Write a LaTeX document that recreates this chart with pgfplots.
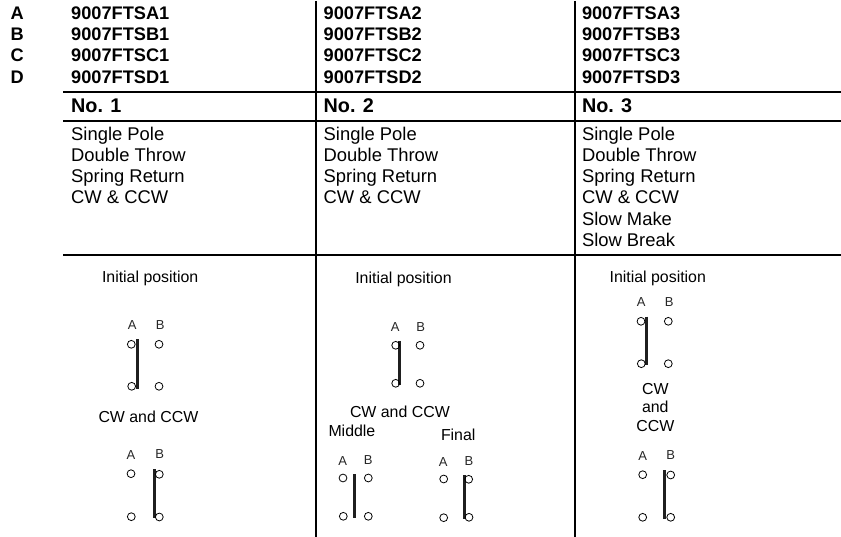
\documentclass[border=0pt]{standalone}
\usepackage{pgfplots}
\pgfplotsset{compat=1.18}
\usepackage{fontspec}
\setmainfont{Liberation Sans}
\newcommand{\bh}{\fontsize{18.2}{20}\selectfont\bfseries}
\newcommand{\nh}{\fontsize{19.8}{24}\selectfont\bfseries}
\newcommand{\tb}{\fontsize{18.4}{20}\selectfont}
\newcommand{\tl}{\fontsize{15.9}{18}\selectfont}
\newcommand{\ab}{\fontsize{13}{14}\selectfont}
\begin{document}
\begin{tikzpicture}[x=1pt,y=1pt,every node/.style={inner sep=0pt,outer sep=0pt,text=black}]
\path[use as bounding box] (0,0) rectangle (841,537);
\begin{axis}[at={(0,0)},anchor=south west,scale only axis,width=841pt,height=537pt,
 xmin=0,xmax=841,ymin=0,ymax=537,y dir=reverse,hide axis,clip=false]
% rules
\addplot[black,line width=1.9pt] coordinates {(63,91.7)(841,91.7)};
\addplot[black,line width=1.9pt] coordinates {(63,120.7)(841,120.7)};
\addplot[black,line width=1.9pt] coordinates {(63,255)(841,255)};
\addplot[black,line width=1.9pt] coordinates {(316,1)(316,537)};
\addplot[black,line width=1.9pt] coordinates {(574.7,1)(574.7,537)};
% contact bars
\foreach \x/\a/\b in {137.3/339.3/388.7,154.3/469.3/518.3,399.3/341/385,354.7/474/517.7,464/475.3/519,646.3/316.7/365.3,664.3/470.3/519.3}{
 \edef\tmp{\noexpand\addplot[color=black!88,line width=3pt] coordinates {(\x,\a)(\x,\b)};}\tmp
}
% terminals
\addplot[only marks,mark=o,mark size=3.9pt,mark options={draw=black,line width=0.8pt,fill=none}] coordinates {
(131.3,344.3)(159,344.3)(131.7,386.3)(159,386.3)
(131,473.7)(159.3,474.3)(131.3,516.7)(159.3,517)
(395.7,345.3)(420,345.3)(395.7,383.3)(420,383.3)
(343,478)(368.3,478)(343.3,516.3)(368.3,516.3)
(443.7,479)(468.7,479.3)(443.7,517.7)(469,517.3)
(641,321.3)(668.3,321.3)(641.3,363.7)(668.3,363.7)
(642.7,474.7)(670.7,475)(642.7,517.3)(670.7,517.3)};
% header
\node[anchor=base west,font=\bh] at (axis cs:10.5,20) {A};
\node[anchor=base west,font=\bh] at (axis cs:10.5,41) {B};
\node[anchor=base west,font=\bh] at (axis cs:10.5,62) {C};
\node[anchor=base west,font=\bh] at (axis cs:10.5,83.5) {D};
\foreach \x/\n in {71.2/1,323.7/2,582/3}{
 \edef\tmp{\noexpand\node[anchor=base west,font=\noexpand\bh] at (axis cs:\x,20) {9007FTSA\n};
 \noexpand\node[anchor=base west,font=\noexpand\bh] at (axis cs:\x,41) {9007FTSB\n};
 \noexpand\node[anchor=base west,font=\noexpand\bh] at (axis cs:\x,62) {9007FTSC\n};
 \noexpand\node[anchor=base west,font=\noexpand\bh] at (axis cs:\x,83.5) {9007FTSD\n};
 \noexpand\node[anchor=base west,font=\noexpand\nh] at (axis cs:\x,112.5) {No. \n};
 \noexpand\node[anchor=base west,font=\noexpand\tb] at (axis cs:\x,141) {Single Pole};
 \noexpand\node[anchor=base west,font=\noexpand\tb] at (axis cs:\x,162) {Double Throw};
 \noexpand\node[anchor=base west,font=\noexpand\tb] at (axis cs:\x,183) {Spring Return};
 \noexpand\node[anchor=base west,font=\noexpand\tb] at (axis cs:\x,204) {CW \noexpand\& CCW};}\tmp
}
\node[anchor=base west,font=\tb] at (axis cs:582,226) {Slow Make};
\node[anchor=base west,font=\tb] at (axis cs:582,246.7) {Slow Break};
% diagram text
\node[anchor=base west,font=\tl] at (axis cs:102,283) {Initial position};
\node[anchor=base west,font=\tl] at (axis cs:355.3,283.3) {Initial position};
\node[anchor=base west,font=\tl] at (axis cs:609.6,282.7) {Initial position};
\node[anchor=base west,font=\tl] at (axis cs:98.5,422.7) {CW and CCW};
\node[anchor=base west,font=\tl] at (axis cs:350,417.3) {CW and CCW};
\node[anchor=base west,font=\tl] at (axis cs:328.5,436) {Middle};
\node[anchor=base west,font=\tl] at (axis cs:441,440) {Final};
\node[anchor=base,font=\tl] at (axis cs:655.3,394) {CW};
\node[anchor=base,font=\tl] at (axis cs:655.3,412.3) {and};
\node[anchor=base,font=\tl] at (axis cs:655.3,431) {CCW};
\foreach \x/\y/\t in {132.3/330/A,160.3/330/B,131/459.3/A,159.7/458/B,395.3/332/A,420.7/332/B,342.7/465/A,368.3/464/B,443.3/466/A,469/465/B,641.3/306.7/A,669.3/306.7/B,642.7/460/A,670.7/459/B}{
 \edef\tmp{\noexpand\node[anchor=base,font=\noexpand\ab,text=black!85] at (axis cs:\x,\y) {\t};}\tmp
}
\end{axis}
\end{tikzpicture}
\end{document}
